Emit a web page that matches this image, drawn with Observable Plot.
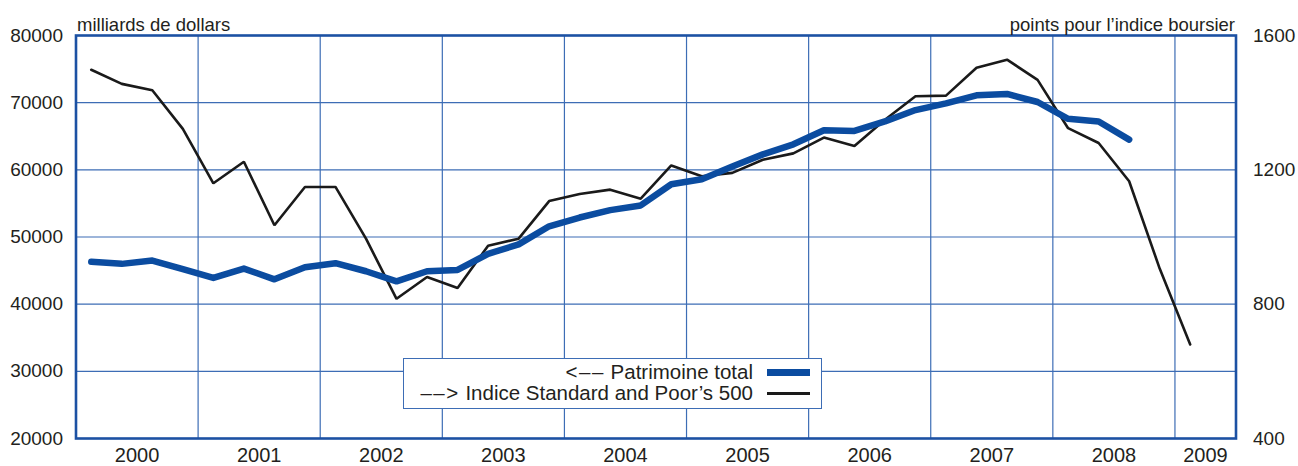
<!DOCTYPE html>
<html>
<head>
<meta charset="utf-8">
<script src="https://cdn.jsdelivr.net/npm/d3@7"></script>
<script src="https://cdn.jsdelivr.net/npm/@observablehq/plot@0.6"></script>
<style>
  html, body { margin: 0; padding: 0; background: #fff; }
  #wrap { position: relative; width: 1298px; height: 466px; font-family: "Liberation Sans", Arial, Helvetica, sans-serif; color: #231f20; }
  #legend { position: absolute; left: 403px; top: 358px; width: 417px; height: 49px; border: 1.5px solid #3d6db5; background: #fff; font-size: 20.5px; line-height: 24px; }
  .row { position: absolute; right: 11px; height: 24px; display: flex; align-items: center; }
  .row span { white-space: nowrap; }
  .dash { letter-spacing: 1.5px; }
  .sw { display: inline-block; width: 43px; margin-left: 14px; }
</style>
</head>
<body>
<div id="wrap"></div>
<script>
// ---- data ----
const quarters = [
  "2000T1","2000T2","2000T3","2000T4",
  "2001T1","2001T2","2001T3","2001T4",
  "2002T1","2002T2","2002T3","2002T4",
  "2003T1","2003T2","2003T3","2003T4",
  "2004T1","2004T2","2004T3","2004T4",
  "2005T1","2005T2","2005T3","2005T4",
  "2006T1","2006T2","2006T3","2006T4",
  "2007T1","2007T2","2007T3","2007T4",
  "2008T1","2008T2","2008T3","2008T4",
  "2009T1"
];
// Patrimoine total (milliards de dollars), left axis
const patrimoine = [
  46300, 46000, 46500, 45200,
  43900, 45300, 43700, 45500,
  46100, 44900, 43400, 44900,
  45100, 47500, 48900, 51600,
  52900, 54000, 54700, 57850,
  58600, 60500, 62300, 63800,
  65900, 65800, 67200, 68900,
  69900, 71100, 71300, 70100,
  67600, 67200, 64500
];
// Indice Standard and Poor's 500 (points), right axis
const sp500 = [
  1498, 1456, 1437, 1322,
  1160, 1224, 1035, 1149,
  1149, 995, 816, 881,
  848, 974, 995, 1107,
  1128, 1141, 1114, 1213,
  1181, 1191, 1230, 1249,
  1296, 1271, 1349, 1419,
  1421, 1504, 1528, 1468,
  1324, 1280, 1166, 906,
  680
];
const years = ["2000","2001","2002","2003","2004","2005","2006","2007","2008","2009"];
const leftTicks = [20000, 30000, 40000, 50000, 60000, 70000, 80000];
const rightTicks = [400, 800, 1200, 1600];
const leftTitle = "milliards de dollars";
const rightTitle = "points pour l\u2019indice boursier";
const seriesArrows = ["<\u2013\u2013", "\u2013\u2013>"];
const seriesNames = ["Patrimoine total", "Indice Standard and Poor\u2019s 500"];

// ---- derived ----
const xDomain = [2000, 2009.5];
const leftDomain = [20000, 80000];
const rightDomain = [400, 1600];
const toLeft = v => leftDomain[0] + (v - rightDomain[0]) * (leftDomain[1] - leftDomain[0]) / (rightDomain[1] - rightDomain[0]);
const toRight = v => rightDomain[0] + (v - leftDomain[0]) * (rightDomain[1] - rightDomain[0]) / (leftDomain[1] - leftDomain[0]);
const qx = q => +q.slice(0, 4) + (+q.slice(5) - 0.5) / 4;

const dataP = patrimoine.map((v, i) => ({x: qx(quarters[i]), y: v}));
const dataS = sp500.map((v, i) => ({x: qx(quarters[i]), y: toLeft(v)}));
const yearBounds = years.map(Number).filter(y => y > xDomain[0]);
const yearCenters = years.map(y => (Math.max(+y, xDomain[0]) + Math.min(+y + 1, xDomain[1])) / 2);

const blue = "#0b4ca0";
const grid = "#3d6db5";
const frameC = "#1c51a3";
const ink = "#231f20";

const chart = Plot.plot({
  width: 1298,
  height: 466,
  marginTop: 35,
  marginBottom: 28,
  marginLeft: 75.5,
  marginRight: 62.5,
  style: {fontFamily: '"Liberation Sans", Arial, Helvetica, sans-serif', fontSize: "18.5px", color: ink, background: "#fff"},
  x: {domain: xDomain},
  y: {domain: leftDomain},
  marks: [
    Plot.gridY(leftTicks, {stroke: grid, strokeOpacity: 1, strokeWidth: 1.2}),
    Plot.gridX(yearBounds, {stroke: grid, strokeOpacity: 1, strokeWidth: 1.2}),
    Plot.axisY(leftTicks, {anchor: "left", tickSize: 0, tickPadding: 13, fontSize: 19, tickFormat: d => String(d), label: null, fill: ink}),
    Plot.axisY(rightTicks.map(toLeft), {anchor: "right", tickSize: 0, tickPadding: 17, fontSize: 19, tickFormat: d => String(Math.round(toRight(d))), label: null, fill: ink}),
    Plot.axisX(yearCenters, {anchor: "bottom", tickSize: 0, tickPadding: 9, fontSize: 20, tickFormat: (d, i) => years[i], label: null, fill: ink}),
    Plot.line(dataS, {x: "x", y: "y", stroke: "#1a1a1a", strokeWidth: 2.6, strokeLinejoin: "miter"}),
    Plot.line(dataP, {x: "x", y: "y", stroke: blue, strokeWidth: 6.5, strokeLinejoin: "round"}),
    Plot.frame({stroke: frameC, strokeWidth: 2.6}),
    Plot.text([leftTitle], {frameAnchor: "top-left", textAnchor: "start", lineAnchor: "bottom", dy: -5, dx: 1, fill: ink}),
    Plot.text([rightTitle], {frameAnchor: "top-right", textAnchor: "end", lineAnchor: "bottom", dy: -5, dx: -1, fill: ink})
  ]
});
const wrap = document.getElementById("wrap");
wrap.appendChild(chart);

// legend overlay
const legend = document.createElement("div");
legend.id = "legend";
const colors = [blue, "#1a1a1a"];
const widths = [7, 3];
const tops = [1, 22];
seriesNames.forEach((name, i) => {
  const row = document.createElement("div");
  row.className = "row";
  row.style.top = tops[i] + "px";
  const a = document.createElement("span");
  a.className = "dash";
  a.textContent = seriesArrows[i];
  const s = document.createElement("span");
  s.textContent = "\u00a0" + name;
  const sw = document.createElement("span");
  sw.className = "sw";
  sw.style.height = widths[i] + "px";
  sw.style.background = colors[i];
  row.appendChild(a);
  row.appendChild(s);
  row.appendChild(sw);
  legend.appendChild(row);
});
wrap.appendChild(legend);
</script>
</body>
</html>
